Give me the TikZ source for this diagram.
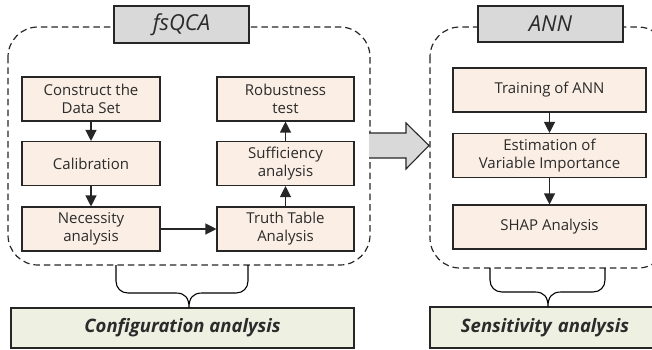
\documentclass[tikz,border=0pt]{standalone}
\usepackage{fontspec}
\setmainfont{Open Sans}
\usetikzlibrary{arrows.meta}
\definecolor{boxfill}{HTML}{FBEEE4}
\definecolor{titlefill}{HTML}{D9D9D9}
\definecolor{resfill}{HTML}{EEF0E2}
\definecolor{edge}{HTML}{262626}
\definecolor{txt}{HTML}{2B2B2B}
\tikzset{
  stepbox/.style={draw=edge, line width=1.1pt, fill=boxfill, align=center, text=txt,
    font=\fontsize{15}{18}\selectfont, inner sep=0pt},
  titlebox/.style={draw=edge, line width=1.1pt, fill=titlefill, text=txt,
    font=\fontsize{22}{24}\selectfont\itshape, inner sep=0pt},
  resbox/.style={draw=edge, line width=1.1pt, fill=resfill, text=txt,
    font=\fontsize{18.5}{22}\selectfont\bfseries\itshape, inner sep=0pt},
  group/.style={draw=black!85, line width=1.2pt, dash pattern=on 6.5pt off 4pt, rounded corners=30pt},
  flow/.style={draw=edge, line width=1.2pt, -{Triangle[length=11pt,width=11pt]}},
  bracestyle/.style={draw=black, line width=1.1pt}
}
\begin{document}
\begin{tikzpicture}[x=1pt,y=-1pt]
\useasboundingbox (0,0) rectangle (652,350);
\clip (0,0) rectangle (652,350);
% group frames
\draw[group] (8,27) rectangle (370,265);
\draw[group] (430,27) rectangle (668,268);
% titles
\node[titlebox, minimum width=135pt, minimum height=37pt] (tq) at (181.5,24.5) {fsQCA};
\node[titlebox, minimum width=145pt, minimum height=36pt] (ta) at (550.5,24) {ANN};
% left steps
\node[stepbox, minimum width=138pt, minimum height=44pt] (cd) at (91,99) {Construct the\\Data Set};
\node[stepbox, minimum width=138pt, minimum height=44pt] (ca) at (91,163.5) {Calibration};
\node[stepbox, minimum width=138pt, minimum height=44pt] (ne) at (91,229) {Necessity\\analysis};
\node[stepbox, minimum width=137pt, minimum height=44pt] (ro) at (285.5,99) {Robustness\\test};
\node[stepbox, minimum width=137pt, minimum height=44pt] (su) at (285.5,163.5) {Sufficiency\\analysis};
\node[stepbox, minimum width=137pt, minimum height=44pt] (tt) at (285.5,229) {Truth Table\\Analysis};
\draw[flow] (cd) -- (ca);
\draw[flow] (ca) -- (ne);
\draw[flow] (ne) -- (tt);
\draw[flow] (tt) -- (su);
\draw[flow] (su) -- (ro);
% right steps
\node[stepbox, minimum width=193pt, minimum height=44pt] (tr) at (549.5,90) {Training of ANN};
\node[stepbox, minimum width=193pt, minimum height=44pt] (es) at (549.5,155.5) {Estimation of\\Variable Importance};
\node[stepbox, minimum width=193pt, minimum height=44pt] (sh) at (549.5,227) {SHAP Analysis};
\draw[flow] (tr) -- (es);
\draw[flow] (es) -- (sh);
% big arrow
\draw[draw=edge, line width=1.1pt, fill=titlefill, line join=miter]
  (369,133) -- (406,133) -- (406,123) -- (429,145.5) -- (406,169) -- (406,158) -- (369,158);
% result boxes
\node[resbox, minimum width=343pt, minimum height=40pt] (cfg) at (182.5,328) {Configuration analysis};
\node[resbox, minimum width=236pt, minimum height=41pt, text width=218pt, align=center] (sen) at (548,327.5) {\hspace*{-6pt}Sensitivity analysis};
% braces
\draw[bracestyle] (116,265) -- (116,281) .. controls (116,288) and (121,293) .. (128,293) -- (176,293)
  .. controls (185,293) and (189,298) .. (189,307.5)
  .. controls (189,298) and (193,293) .. (202,293) -- (236,293)
  .. controls (243,293) and (248,288) .. (248,281) -- (248,265);
\draw[bracestyle] (490,268) -- (490,280) .. controls (490,287) and (495,292) .. (502,292) -- (535,292)
  .. controls (544,292) and (548,297) .. (548,306.5)
  .. controls (548,297) and (552,292) .. (561,292) -- (593,292)
  .. controls (600,292) and (605,287) .. (605,280) -- (605,268);
\end{tikzpicture}
\end{document}
